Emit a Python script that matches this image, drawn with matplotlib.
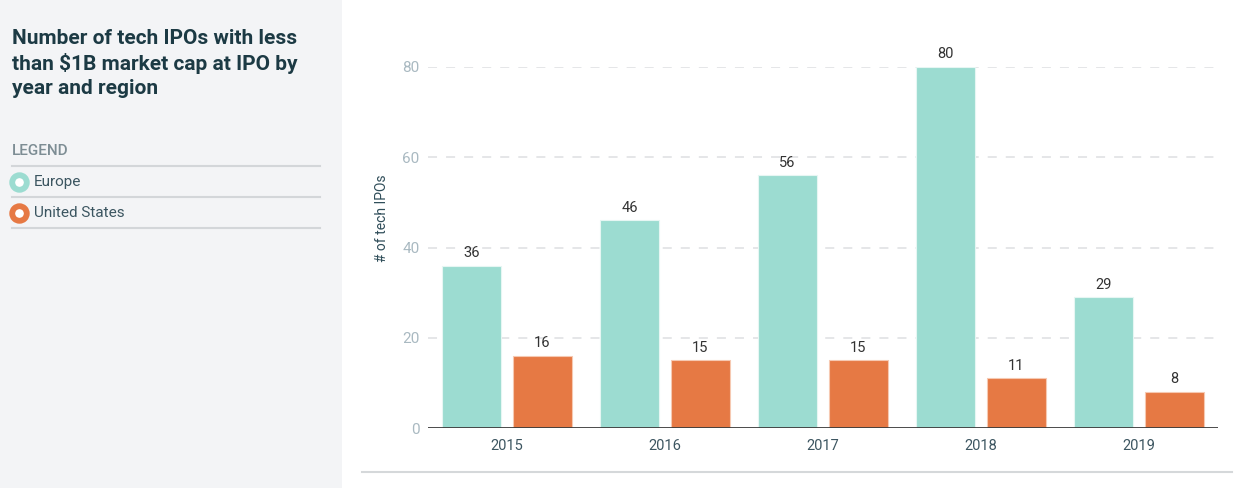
import matplotlib
matplotlib.use("Agg")
import matplotlib.pyplot as plt
import numpy as np
from matplotlib.patches import Rectangle
from matplotlib.lines import Line2D

years = ["2015", "2016", "2017", "2018", "2019"]
europe = [36, 46, 56, 80, 29]
united_states = [16, 15, 15, 11, 8]
y_ticks = [0, 20, 40, 60, 80]

c_eu = "#9cdcd1"
c_us = "#e67944"
W, H = 1244, 488

plt.rcParams['font.family'] = ['Roboto', 'DejaVu Sans']

fig = plt.figure(figsize=(W / 100, H / 100), dpi=100)
fig.patch.set_facecolor("white")

# left grey panel
fig.patches.append(Rectangle((0, 0), 342 / W, 1, transform=fig.transFigure,
                             facecolor="#f3f4f6", edgecolor="none", zorder=0))

fig.text(12 / W, 1 - 29 / H, "Number of tech IPOs with less\nthan $1B market cap at IPO by\nyear and region",
         ha="left", va="top", fontsize=15, fontweight="bold", color="#1c3a44", linespacing=1.31)

fig.text(12 / W, 1 - 151 / H, "LEGEND", ha="left", va="center", fontsize=11,
         color="#7d8d94", fontweight="medium")

for yy in [166, 197, 228]:
    fig.lines.append(Line2D([12 / W, 320 / W], [1 - yy / H, 1 - yy / H], transform=fig.transFigure,
                            color="#d3d6d9", lw=1.5))

for yy, name, col in [(182, "Europe", c_eu), (213, "United States", c_us)]:
    fig.lines.append(Line2D([19 / W], [1 - yy / H], transform=fig.transFigure, marker="o",
                            markersize=10.5, markerfacecolor="white", markeredgecolor=col,
                            markeredgewidth=4.2, linestyle="none"))
    fig.text(34 / W, 1 - yy / H, name, ha="left", va="center", fontsize=11, color="#3b5560")

# bottom separator
fig.lines.append(Line2D([362 / W, 1232 / W], [1 - 472 / H, 1 - 472 / H], transform=fig.transFigure,
                        color="#d5d8da", lw=1.5))

ax = fig.add_axes([428 / W, 1 - 428 / H, 790 / W, (428 - 67) / H])
ax.set_facecolor("none")

x = np.arange(len(years))
bw = 0.372
off = 0.224
b1 = ax.bar(x - off, europe, bw, color=c_eu, edgecolor="#e6f6f3", linewidth=0.8, zorder=2)
b2 = ax.bar(x + off, united_states, bw, color=c_us, edgecolor="#f6c9b2", linewidth=0.8, zorder=2)

for bars in (b1, b2):
    ax.bar_label(bars, padding=4, fontsize=10.5, color="#333333", clip_on=False)

ax.set_xlim(-0.5, len(years) - 0.5)
ax.set_ylim(0, 80)
ax.set_yticks(y_ticks)
ax.set_xticks(x)
ax.set_xticklabels(years)

for t in y_ticks[1:]:
    ax.axhline(t, color="#e3e4e6", lw=1.3, linestyle=(0, (5, 5)), zorder=1)
ax.axhline(0, color="#3a3a3a", lw=2, zorder=3)

for s in ax.spines.values():
    s.set_visible(False)
ax.tick_params(axis="y", length=0, pad=6, labelsize=11, labelcolor="#a9b9c1")
ax.tick_params(axis="x", length=0, pad=8, labelsize=10.5, labelcolor="#3d5661")

ax.set_ylabel("# of tech IPOs", fontsize=10, color="#2f4d59")
ax.yaxis.set_label_coords(-0.05, 0.58)

fig.savefig("out.png", dpi=100)
